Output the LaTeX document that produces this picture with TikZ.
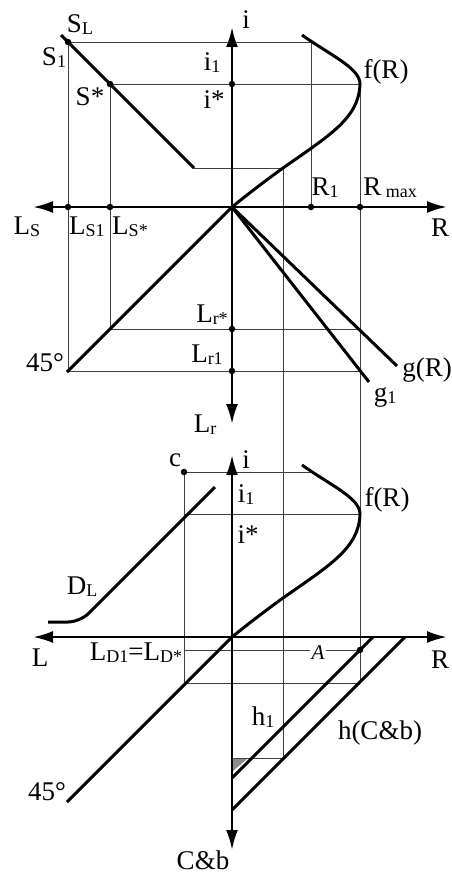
\documentclass[tikz,border=0pt]{standalone}
\usepackage{fontspec}
\setmainfont{Liberation Serif}
\usetikzlibrary{arrows.meta}

\newcommand{\subtx}[1]{\raisebox{-2pt}{\fontsize{18}{20}\selectfont#1}}

\begin{document}
\begin{tikzpicture}[x=1pt, y=-1pt,
        font=\fontsize{27}{32}\selectfont,
        axisline/.style={line width=2.6pt,
            {Latex[length=20pt,width=12pt]}-{Latex[length=20pt,width=12pt]}},
        thickline/.style={line width=3pt},
        guide/.style={line width=.9pt, black!75},
        dot/.style={circle, fill, inner sep=0pt, minimum size=6.5pt},
        every node/.style={inner sep=0pt},
    ]
    \useasboundingbox (0,0) rectangle (452,875);

    % upper plane
    \coordinate (O1) at (232,207);
    \coordinate (iU) at (232,27);
    \coordinate (LrU) at (232,424);
    \coordinate (LsU) at (33,207);
    \coordinate (RU) at (447,207);
    \coordinate (SL) at (61,35);
    \coordinate (S1) at (68,42);
    \coordinate (Sst) at (110,84);
    \coordinate (Sk) at (194,168);
    \coordinate (Fk) at (283,168);
    \coordinate (i1U) at (311,42);
    \coordinate (istU) at (232,84);
    \coordinate (Fv) at (360,84);
    \coordinate (R1) at (311,207);
    \coordinate (Rmax) at (360,207);
    \coordinate (Ls1) at (68,207);
    \coordinate (Lsst) at (110,207);
    \coordinate (Lr1) at (232,371);
    \coordinate (Lrst) at (232,329);
    \coordinate (K1) at (68,371);
    \coordinate (Kst) at (110,329);
    \coordinate (G1) at (360,371);
    \coordinate (Gst) at (360,329);
    \coordinate (gR) at (397,366);
    \coordinate (g1) at (369,382);
    \coordinate (D45) at (67,372);

    % lower plane
    \coordinate (O2) at (232,637);
    \coordinate (iL) at (232,455);
    \coordinate (CbL) at (232,850);
    \coordinate (LL) at (33,637);
    \coordinate (RL) at (447,637);
    \coordinate (c) at (184,472);
    \coordinate (i1L) at (311,472);
    \coordinate (cst) at (184,514);
    \coordinate (FvL) at (360,514);
    \coordinate (FkL) at (283,598);
    \coordinate (cD) at (184,650);
    \coordinate (A) at (360,650);
    \coordinate (cH) at (184,683);
    \coordinate (Ah) at (360,683);
    \coordinate (hb) at (232,758);
    \coordinate (hk) at (283,758);
    \coordinate (h1s) at (232,778);
    \coordinate (h1e) at (373,637);
    \coordinate (hs) at (232,810);
    \coordinate (he) at (405,637);
    \coordinate (E45) at (67,802);
    \coordinate (DLa) at (48,622);
    \coordinate (DLk) at (80,622);
    \coordinate (DLb) at (215,487);

    % projection lines
    \draw[guide] (S1) -- (i1U) -- (R1);
    \draw[guide] (Sst) -- (Fv);
    \draw[guide] (S1) -- (K1) -- (G1);
    \draw[guide] (Sst) -- (Kst) -- (Gst);
    \draw[guide] (Sk) -- (Fk) -- (hk) -- (hb);
    \draw[guide] (Fv) -- (Ah);
    \draw[guide] (c) -- (i1L);
    \draw[guide] (cst) -- (FvL);
    \draw[guide] (c) -- (cH) -- (Ah);
    \draw[guide] (cD) -- (A);
    \fill[black!45] (233,759) -- (247,759) -- (233,771) -- cycle;

    % curves
    \draw[thickline] (SL) -- (Sk);
    \draw[thickline] (O1) -- (D45);
    \draw[thickline] (O1) -- (gR);
    \draw[thickline] (O1) -- (g1);
    \draw[thickline] (302,35) .. controls (330,55) and (360,68) .. (Fv)
        .. controls (359,118) and (330,135) .. (Fk)
        .. controls (265,181) and (248,194) .. (O1);
    \draw[thickline] (302,465) .. controls (330,485) and (360,498) .. (FvL)
        .. controls (359,548) and (330,565) .. (FkL)
        .. controls (265,611) and (248,624) .. (O2);
    \draw[thickline] (O2) -- (E45);
    \draw[thickline, rounded corners=12pt] (DLa) -- (DLk) -- (DLb);
    \draw[thickline] (h1s) -- (h1e);
    \draw[thickline] (hs) -- (he);

    % axes
    \draw[axisline] (LsU) -- (RU);
    \draw[axisline] (LrU) -- (iU);
    \draw[axisline] (LL) -- (RL);
    \draw[axisline] (CbL) -- (iL);

    % points
    \foreach \p in {S1, Sst, istU, R1, Rmax, Ls1, Lsst, Lr1, Lrst, c, A}
        \node[dot] at (\p) {};

    % labels
    \node (tI) at (246,20) {i};
    \node (tSL) at (80,25) {S\subtx{L}};
    \node (tS1) at (54,58) {S\subtx{1}};
    \node (tSst) at (90,97) {S*};
    \node (ti1) at (212,63) {i\subtx{1}};
    \node (tist) at (214,100) {i*};
    \node (tf) at (386,72) {f(R)};
    \node (tR1) at (325,188) {R\subtx{1}};
    \node (tRmax) at (390,188) {R\,\subtx{max}};
    \node (tR) at (440,228) {R};
    \node (tLs) at (27,227) {L\subtx{S}};
    \node (tLs1) at (87,227) {L\subtx{S1}};
    \node (tLsst) at (130,227) {L\subtx{S*}};
    \node (tLrst) at (212,315) {L\subtx{r*}};
    \node (tLr1) at (207,355) {L\subtx{r1}};
    \node (t45a) at (45,363) {45°};
    \node (tg) at (427,370) {g(R)};
    \node (tg1) at (385,397) {g\subtx{1}};
    \node (tLr) at (205,425) {L\subtx{r}};

    \node (tc) at (175,460) {c};
    \node (tI2) at (246,460) {i};
    \node (ti1b) at (246,495) {i\subtx{1}};
    \node (tistb) at (248,535) {i*};
    \node (tf2) at (387,500) {f(R)};
    \node (tDL) at (82,587) {D\subtx{L}};
    \node (tL) at (40,658) {L};
    \node (tLD) at (136,653) {L\subtx{D1}=L\subtx{D*}};
    \node[fill=white, inner sep=2pt, font=\fontsize{21}{24}\selectfont\itshape]
        (tA) at (318,653) {A};
    \node (tR2) at (440,660) {R};
    \node (th1) at (263,717) {h\subtx{1}};
    \node (th) at (380,733) {h(C\&b)};
    \node (t45b) at (47,792) {45°};
    \node (tCb) at (203,860) {C\&b};
\end{tikzpicture}
\end{document}
